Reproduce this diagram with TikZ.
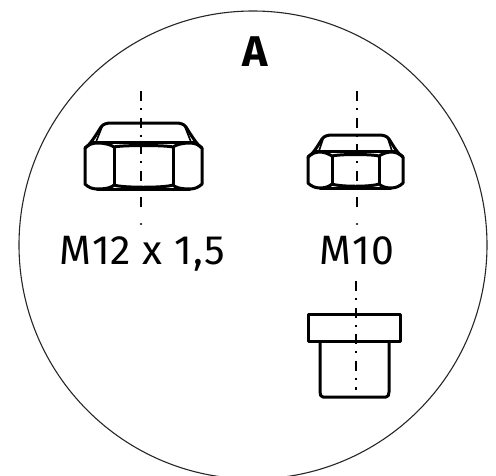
\documentclass[tikz,border=0pt]{standalone}
\usepackage{fontspec}
\setmainfont{Fira Sans}
\tikzset{
  px/.style={x=1pt,y=-1pt},
  thickline/.style={draw=black,line width=3pt,line join=round,line cap=round},
  axisline/.style={draw=black,line width=1.9pt,dash pattern=on 10pt off 7pt on 2pt off 7.5pt},
  outline/.style={draw=black!85,line width=1.1pt},
  lbl/.style={inner sep=0pt,anchor=base},
}
\newcommand{\nutshape}[9]{% xl xil xc xir xr ytop ybase ybottom capinset
  \draw[thickline] (#1,#7+6) .. controls (#1+3,#7+3) and (#1+7,#7+1) .. (#1+12,#7+1)
     .. controls (#2-8,#7+1) and (#2-3,#7+3) .. (#2,#7+5)
     .. controls (#2+8,#7+3) and (#4-8,#7+3) .. (#4,#7+5)
     .. controls (#4+3,#7+3) and (#4+8,#7+1) .. (#5-12,#7+1)
     .. controls (#5-7,#7+1) and (#5-3,#7+3) .. (#5,#7+6);
  \draw[thickline] (#1,#7+6) -- (#1,#8-5) .. controls (#1+3,#8-2) and (#1+7,#8) .. (#1+12,#8)
     .. controls (#2-6,#8) and (#2-2,#8-2) .. (#2,#8-4)
     .. controls (#2+8,#8-1) and (#4-8,#8-1) .. (#4,#8-4)
     .. controls (#4+2,#8-2) and (#4+6,#8) .. (#5-12,#8)
     .. controls (#5-7,#8) and (#5-3,#8-2) .. (#5,#8-5) -- (#5,#7+6);
  \draw[thickline] (#2,#7+5) -- (#2,#8-4) (#4,#7+5) -- (#4,#8-4) (#1+12,#8) -- (#5-12,#8);
  \draw[thickline] (#1,#7+6) .. controls (#1+5,#7+3) and (#1+#9-7,#6+12) .. (#1+#9-2,#6+4)
     .. controls (#1+#9,#6+1) and (#1+#9+4,#6) .. (#1+#9+8,#6)
     -- (#5-#9-8,#6) .. controls (#5-#9-4,#6) and (#5-#9,#6+1) .. (#5-#9+2,#6+4)
     .. controls (#5-#9+7,#6+12) and (#5-5,#7+3) .. (#5,#7+6);
  \draw[draw=black,line width=1.6pt] (#1+11,#7) -- (#1+#9-1,#6+4) (#5-11,#7) -- (#5-#9+1,#6+4);
  \fill[black] (#1+8,#7-1) rectangle (#5-8,#7+1.5);
}
\begin{document}
\begin{tikzpicture}[px]
\useasboundingbox (0,0) rectangle (496,475);
\begin{scope}
\clip (0,0) rectangle (496,475);
\draw[outline] (253,245) circle (234);
\end{scope}
\nutshape{85}{114}{141}{173}{202}{123}{142}{189}{18}
\nutshape{308}{332}{357}{379}{403}{135}{151}{188}{16}
\coordinate (a1) at (141,91); \coordinate (a2) at (141,213);
\coordinate (b1) at (357,91); \coordinate (b2) at (357,213);
\coordinate (c1) at (356,281); \coordinate (c2) at (356,390);
\draw[axisline] (a1) -- (a2);
\draw[axisline] (b1) -- (b2);
\draw[axisline] (c1) -- (c2);
\fill (141,224) circle (1.2pt); \fill (357,224) circle (1.2pt);
\draw[thickline,line cap=butt] (308,314) rectangle (400,341);
\draw[thickline,line cap=butt] (320,341) -- (320,392) .. controls (320,395) and (321,397) .. (323,397) -- (386,397) .. controls (388,397) and (389,395) .. (389,392) -- (389,341);
\node[lbl] (title) at (255,66) {\fontsize{43}{43}\selectfont\bfseries A};
\node[lbl] (m12) at (142.5,264) {\addfontfeature{LetterSpace=2.5}\fontsize{41}{41}\selectfont M12 x 1,5};
\node[lbl] (m10) at (357,264) {\addfontfeature{LetterSpace=2.5}\fontsize{41}{41}\selectfont M10};
\end{tikzpicture}
\end{document}
